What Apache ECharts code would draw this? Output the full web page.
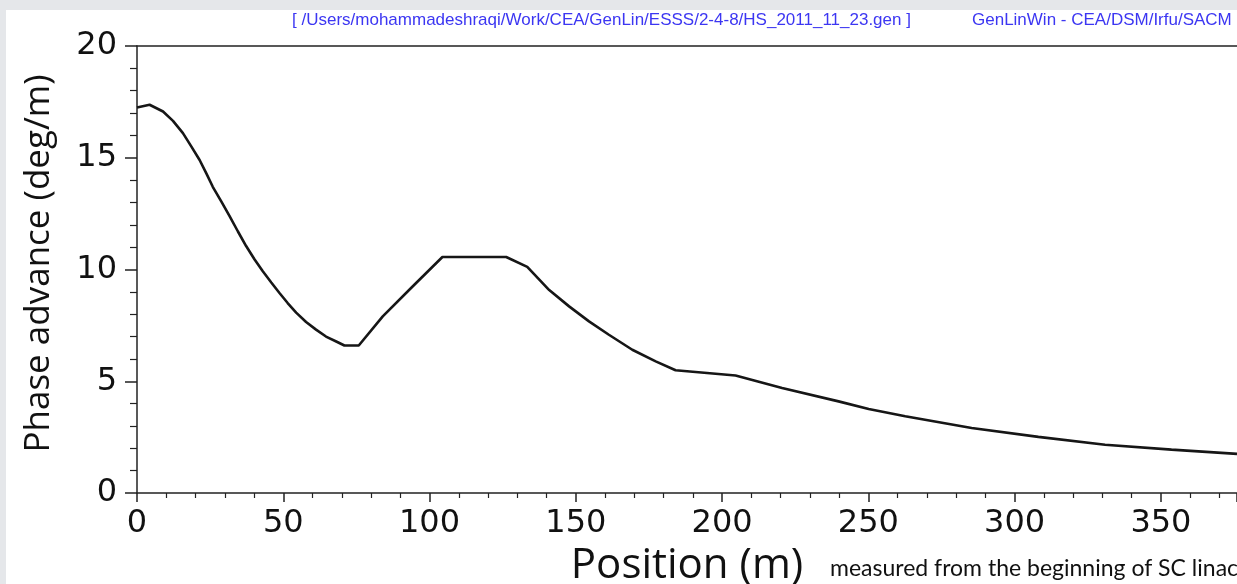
<!DOCTYPE html>
<html>
<head>
<meta charset="utf-8">
<script src="https://cdn.jsdelivr.net/npm/echarts@6/dist/echarts.min.js"></script>
<style>
  html, body { margin: 0; padding: 0; background: #e5e7ea; }
  #chart { width: 1237px; height: 584px; }
</style>
</head>
<body>
<div id="chart"></div>
<script>
  // position along linac (m)
  var positions = [0, 4.3, 8.9, 12.3, 15.7, 18.6, 21.4, 23.7, 25.9, 28.8, 31.6, 34.5, 37.3, 40.2, 43.0,
                   45.9, 48.7, 51.5, 54.4, 57.8, 61.2, 64.6, 68.1, 70.9,
                   75.8, 84, 94.2, 104.4, 126.2, 133.4, 140.9, 147.7, 154.5, 161.3, 169.3, 177.3, 184.1, 204.6,
                   220.5, 239.8, 250.1, 262.6, 285.3, 308.1, 330.9, 353.6, 376];
  // phase advance (deg/m)
  var phaseAdvance = [17.25, 17.37, 17.07, 16.65, 16.1, 15.5, 14.9, 14.3, 13.7, 13.05, 12.4, 11.7, 11.05, 10.45, 9.92,
                      9.42, 8.95, 8.5, 8.07, 7.65, 7.31, 7.0, 6.78, 6.6,
                      6.6, 7.9, 9.24, 10.56, 10.56, 10.12, 9.08, 8.35, 7.68, 7.08, 6.41, 5.89, 5.49, 5.26,
                      4.70, 4.10, 3.76, 3.43, 2.91, 2.51, 2.16, 1.94, 1.75];
  var headerPath = '[ /Users/mohammadeshraqi/Work/CEA/GenLin/ESSS/2-4-8/HS_2011_11_23.gen ]';
  var headerTool = 'GenLinWin - CEA/DSM/Irfu/SACM';
  var noteText = 'measured from the beginning of SC linac';

  var myChart = echarts.init(document.getElementById('chart'));
  var pts = [];
  for (var i = 0; i < positions.length; i++) {
    pts.push([positions[i], phaseAdvance[i]]);
  }

  myChart.setOption({
    animation: false,
    graphic: [{
      type: 'rect', z: -10, silent: true,
      shape: { x: 6, y: 10, width: 1240, height: 580 },
      style: { fill: '#ffffff' }
    }],
    title: [
      { text: headerPath, left: 287, top: 7,
        textStyle: { color: '#3c36f2', fontFamily: 'Liberation Sans', fontSize: 17, fontWeight: 'normal' } },
      { text: headerTool, left: 967, top: 7,
        textStyle: { color: '#3c36f2', fontFamily: 'Liberation Sans', fontSize: 17, fontWeight: 'normal' } },
      { text: noteText, left: 825, top: 552,
        textStyle: { color: '#111', fontFamily: 'Lato', fontSize: 23, fontWeight: 'normal' } }
    ],
    grid: {
      left: 137,
      top: 46,
      right: 0,
      bottom: 91,
      outerBoundsMode: 'none'
    },
    xAxis: [
      {
        type: 'value',
        min: 0,
        max: 376,
        interval: 50,
        name: 'Position (m)',
        nameLocation: 'middle',
        nameGap: 46,
        nameTextStyle: { color: '#111', fontFamily: 'Open Sans', fontSize: 42 },
        axisLine: { lineStyle: { color: '#222', width: 1.5 } },
        axisTick: { length: 9, lineStyle: { color: '#222', width: 1.5 } },
        minorTick: { show: true, splitNumber: 5, length: 5, lineStyle: { color: '#222', width: 1.2 } },
        axisLabel: { showMaxLabel: false, margin: 15, color: '#111', fontFamily: 'DejaVu Sans', fontSize: 32 },
        splitLine: { show: false }
      },
      {
        type: 'value',
        position: 'top',
        min: 0,
        max: 376,
        axisLine: { show: true, lineStyle: { color: '#222', width: 1.5 } },
        axisTick: { show: false },
        axisLabel: { show: false },
        splitLine: { show: false }
      }
    ],
    yAxis: {
      type: 'value',
      min: 0,
      max: 20,
      interval: 5,
      name: 'Phase advance (deg/m)',
      nameLocation: 'middle',
      nameRotate: 90,
      nameGap: 80,
      nameTextStyle: { color: '#111', fontFamily: 'Open Sans', fontSize: 35, padding: [0, 0, 0, 12] },
      axisLine: { show: true, lineStyle: { color: '#222', width: 1.5 } },
      axisTick: { show: true, length: 12, lineStyle: { color: '#222', width: 1.5 } },
      minorTick: { show: true, splitNumber: 5, length: 7, lineStyle: { color: '#222', width: 1.2 } },
      axisLabel: { margin: 20, color: '#111', fontFamily: 'DejaVu Sans', fontSize: 32 },
      splitLine: { show: false }
    },
    series: [{
      type: 'line',
      data: pts,
      showSymbol: false,
      smooth: false,
      lineStyle: { color: '#161616', width: 2.6 }
    }]
  });
</script>
</body>
</html>
